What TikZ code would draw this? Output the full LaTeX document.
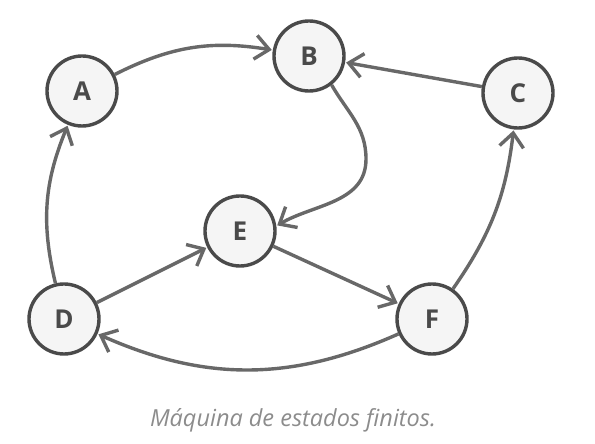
\documentclass[tikz,border=0pt]{standalone}
\usepackage{fontspec}
\setmainfont{Open Sans}
\usetikzlibrary{arrows.meta}
\definecolor{nodefill}{HTML}{F5F5F5}
\definecolor{nodeline}{HTML}{4A4A4A}
\definecolor{edgecol}{HTML}{686868}
\definecolor{captcol}{HTML}{8C8C8C}
\tikzset{
  state/.style={circle, draw=nodeline, fill=nodefill, line width=3.4pt, minimum size=70pt, inner sep=0pt, font=\fontsize{26}{26}\selectfont\bfseries, text=nodeline},
  edge/.style={draw=edgecol, line width=3.4pt, -{Straight Barb[length=14pt,width=24pt]}, shorten >=1pt},
}
\begin{document}
\begin{tikzpicture}[x=1pt,y=1pt]
\useasboundingbox (0,0) rectangle (595,444);
\node[state] (A) at (82,353) {A};
\node[state] (B) at (309,388) {B};
\node[state] (C) at (518,351) {C};
\node[state] (E) at (240,213) {E};
\node[state] (D) at (64,125) {D};
\node[state] (F) at (432,125) {F};
\coordinate (be) at (366,285);
\draw[edge] (A) to[bend left=18] (B);
\draw[edge] (C) -- (B);
\draw[edge] (B.-52) to[out=-60,in=90] (be) to[out=-90,in=30] (E.8);
\draw[edge] (D) to[bend left=18] (A);
\draw[edge] (D) -- (E);
\draw[edge] (E) -- (F);
\draw[edge] (F) to[bend right=14] (C);
\draw[edge] (F) to[bend left=24] (D);
\node[font=\fontsize{23.5}{23.5}\selectfont\itshape, text=captcol] (cap) at (293,24) {Máquina de estados finitos.};
\end{tikzpicture}
\end{document}
